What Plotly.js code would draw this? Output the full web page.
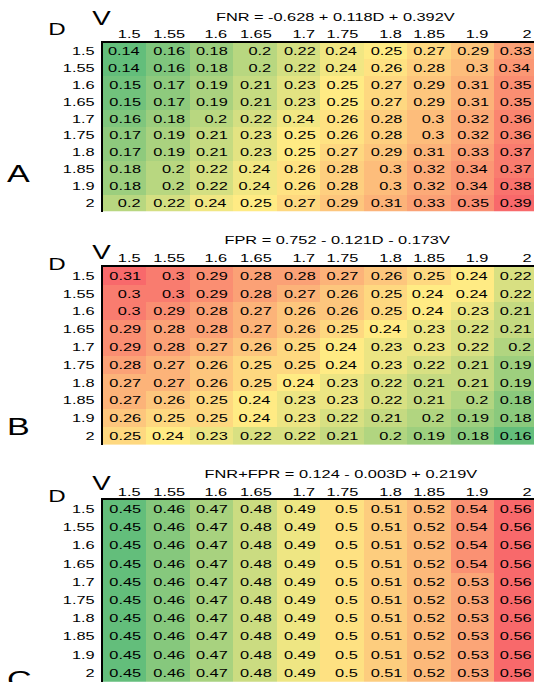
<!DOCTYPE html>
<html><head><meta charset="utf-8">
<script src="https://cdn.plot.ly/plotly-3.0.1.min.js"></script>
<style>
html,body{margin:0;padding:0;overflow:hidden;background:#fff;width:534px;height:682px;}
#wrap{width:534px;height:682px;overflow:hidden;position:relative;}
#chart{width:380px;height:682px;transform:scaleX(1.42);transform-origin:0 0;}
</style></head><body><div id="wrap"><div id="chart"></div></div>
<script>
const vLabels = ["1.5","1.55","1.6","1.65","1.7","1.75","1.8","1.85","1.9","2"];
const dLabels = ["1.5","1.55","1.6","1.65","1.7","1.75","1.8","1.85","1.9","2"];

const fnr = [
  [0.14,0.16,0.18,0.2,0.22,0.24,0.25,0.27,0.29,0.33],
  [0.14,0.16,0.18,0.2,0.22,0.24,0.26,0.28,0.3,0.34],
  [0.15,0.17,0.19,0.21,0.23,0.25,0.27,0.29,0.31,0.35],
  [0.15,0.17,0.19,0.21,0.23,0.25,0.27,0.29,0.31,0.35],
  [0.16,0.18,0.2,0.22,0.24,0.26,0.28,0.3,0.32,0.36],
  [0.17,0.19,0.21,0.23,0.25,0.26,0.28,0.3,0.32,0.36],
  [0.17,0.19,0.21,0.23,0.25,0.27,0.29,0.31,0.33,0.37],
  [0.18,0.2,0.22,0.24,0.26,0.28,0.3,0.32,0.34,0.37],
  [0.18,0.2,0.22,0.24,0.26,0.28,0.3,0.32,0.34,0.38],
  [0.2,0.22,0.24,0.25,0.27,0.29,0.31,0.33,0.35,0.39]
];
const fpr = [
  [0.31,0.3,0.29,0.28,0.28,0.27,0.26,0.25,0.24,0.22],
  [0.3,0.3,0.29,0.28,0.27,0.26,0.25,0.24,0.24,0.22],
  [0.3,0.29,0.28,0.27,0.26,0.26,0.25,0.24,0.23,0.21],
  [0.29,0.28,0.28,0.27,0.26,0.25,0.24,0.23,0.22,0.21],
  [0.29,0.28,0.27,0.26,0.25,0.24,0.23,0.23,0.22,0.2],
  [0.28,0.27,0.26,0.25,0.25,0.24,0.23,0.22,0.21,0.19],
  [0.27,0.27,0.26,0.25,0.24,0.23,0.22,0.21,0.21,0.19],
  [0.27,0.26,0.25,0.24,0.23,0.23,0.22,0.21,0.2,0.18],
  [0.26,0.25,0.25,0.24,0.23,0.22,0.21,0.2,0.19,0.18],
  [0.25,0.24,0.23,0.22,0.22,0.21,0.2,0.19,0.18,0.16]
];
const fnrPlusFpr = [
  [0.45,0.46,0.47,0.48,0.49,0.5,0.51,0.52,0.54,0.56],
  [0.45,0.46,0.47,0.48,0.49,0.5,0.51,0.52,0.54,0.56],
  [0.45,0.46,0.47,0.48,0.49,0.5,0.51,0.52,0.54,0.56],
  [0.45,0.46,0.47,0.48,0.49,0.5,0.51,0.52,0.54,0.56],
  [0.45,0.46,0.47,0.48,0.49,0.5,0.51,0.52,0.53,0.56],
  [0.45,0.46,0.47,0.48,0.49,0.5,0.51,0.52,0.53,0.56],
  [0.45,0.46,0.47,0.48,0.49,0.5,0.51,0.52,0.53,0.56],
  [0.45,0.46,0.47,0.48,0.49,0.5,0.51,0.52,0.53,0.56],
  [0.45,0.46,0.47,0.48,0.49,0.5,0.51,0.52,0.53,0.56],
  [0.45,0.46,0.47,0.48,0.49,0.5,0.51,0.52,0.53,0.56]
];
const panelTitles = ["FNR = -0.628 + 0.118D + 0.392V","FPR = 0.752 - 0.121D - 0.173V","FNR+FPR = 0.124 - 0.003D + 0.219V"];
const panelLetters = ["A","B","C"];
const panelData = [fnr, fpr, fnrPlusFpr];

// geometry (actual screen px; x later divided by stretch)
const SX = 1.42, W = 380, H = 682;
const geom = [
  {top:42.5, bot:211.5, title:17, head:34, vy:18, dy:29.5, ly:173, tx:336.5},
  {top:266.8, bot:444.8, title:240.3, head:258, vy:251.5, dy:264, ly:426, tx:337},
  {top:500, bot:681.8, title:474, head:492, vy:483, dy:496, ly:679, tx:341}
];
const gridL = 103, gridR = 537;
const px = v => v / SX / W;
const py = v => 1 - v / H;
const FONT = "Liberation Sans, Arial, Helvetica, sans-serif";
const GREEN = "#63BE7B", YELLOW = "#FFEB84", RED = "#F8696B";

function median(m){
  const a = m.flat().slice().sort((p,q)=>p-q);
  const n = a.length;
  return n % 2 ? a[(n-1)/2] : (a[n/2-1] + a[n/2]) / 2;
}

const traces = [], annotations = [];
const layout = {
  width: W, height: H, margin:{l:0,r:0,t:0,b:0},
  paper_bgcolor:"#fff", plot_bgcolor:"#fff", showlegend:false,
  font:{family:FONT, size:11.5, color:"#000"}
};

panelData.forEach((z, i) => {
  const g = geom[i];
  const sfx = i === 0 ? "" : String(i+1);
  const flat = z.flat();
  const zmin = Math.min(...flat), zmax = Math.max(...flat), zmed = median(z);
  const midPos = (zmed - zmin) / (zmax - zmin);
  traces.push({
    type:"heatmap", x:vLabels, y:dLabels, z:z,
    xaxis:"x"+sfx, yaxis:"y"+sfx,
    zmin:zmin, zmax:zmax, showscale:false, hoverinfo:"skip", xgap:0, ygap:0,
    colorscale:[[0,GREEN],[midPos,YELLOW],[1,RED]]
  });
  layout["xaxis"+sfx] = {
    type:"category", domain:[px(gridL), px(gridR)], anchor:"y"+sfx, side:"top",
    categoryorder:"array", categoryarray:vLabels, range:[-0.5, 9.5],
    showticklabels:false, ticks:"", showgrid:false, zeroline:false,
    showline:true, linecolor:"#000", linewidth:1.6, fixedrange:true
  };
  layout["yaxis"+sfx] = {
    type:"category", domain:[py(g.bot), py(g.top)], anchor:"x"+sfx,
    categoryorder:"array", categoryarray:dLabels, range:[9.5, -0.5],
    ticks:"", showgrid:false, zeroline:false, showline:true, linecolor:"#000", linewidth:1.6,
    tickfont:{family:FONT, size:11.5, color:"#000"}, ticklabelstandoff:2, fixedrange:true
  };
  // cell values, right aligned (positions given as category indices on the axes)
  z.forEach((row, r) => row.forEach((val, c) => {
    annotations.push({xref:"x"+sfx, yref:"y"+sfx, x:c, y:r, text:String(val),
      showarrow:false, xanchor:"right", yanchor:"middle", xshift:13.5,
      font:{family:FONT, size:11.5, color:"#000"}});
  }));
  // column headers
  vLabels.forEach((v, c) => annotations.push({xref:"x"+sfx, yref:"paper", x:c, y:py(g.head), text:v,
    showarrow:false, xanchor:"right", yanchor:"middle", xshift:13.5,
    font:{family:FONT, size:11.5, color:"#000"}}));
  // title
  annotations.push({xref:"paper", yref:"paper", x:px(g.tx), y:py(g.title), text:panelTitles[i],
    showarrow:false, xanchor:"center", yanchor:"middle", font:{family:FONT, size:11.5, color:"#000"}});
  // V and D
  annotations.push({xref:"paper", yref:"paper", x:px(101.5), y:py(g.vy), text:"V",
    showarrow:false, xanchor:"center", yanchor:"middle", font:{family:FONT, size:19.5, color:"#000"}});
  annotations.push({xref:"paper", yref:"paper", x:px(57), y:py(g.dy), text:"D",
    showarrow:false, xanchor:"center", yanchor:"middle", font:{family:FONT, size:17, color:"#000"}});
  // panel letter
  annotations.push({xref:"paper", yref:"paper", x:px(19), y:py(g.ly), text:panelLetters[i],
    showarrow:false, xanchor:"center", yanchor:"middle", font:{family:FONT, size:24, color:"#000"}});
});
layout.annotations = annotations;
Plotly.newPlot("chart", traces, layout, {staticPlot:true, displayModeBar:false});
</script></body></html>
